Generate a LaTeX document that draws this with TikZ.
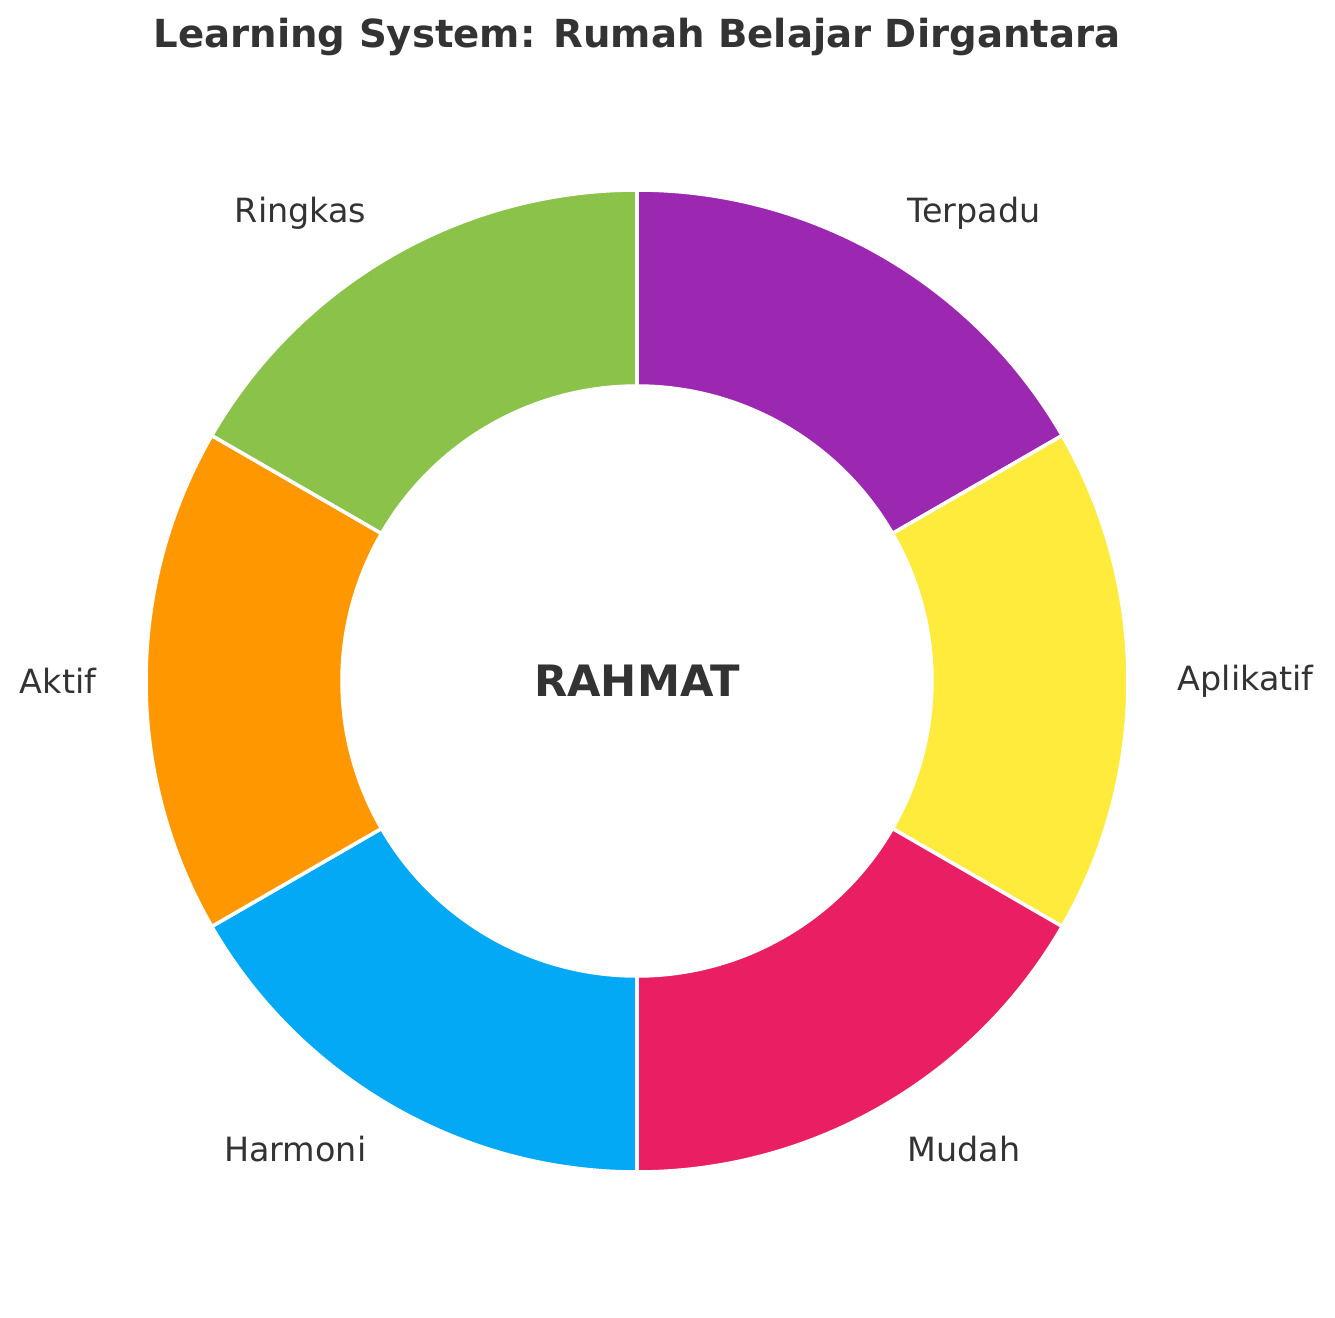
\documentclass[tikz,border=0pt]{standalone}
\usepackage{fontspec}
\setmainfont{DejaVu Sans}
\definecolor{txt}{HTML}{333333}
\definecolor{cTerpadu}{HTML}{9C27B0}
\definecolor{cAplikatif}{HTML}{FFEB3B}
\definecolor{cMudah}{HTML}{E91E63}
\definecolor{cHarmoni}{HTML}{03A9F4}
\definecolor{cAktif}{HTML}{FF9800}
\definecolor{cRingkas}{HTML}{8BC34A}
\tikzset{
  wedge/.style={draw=white, line width=1pt},
  lbl/.style={font=\fontsize{9.5}{11}\selectfont, text=txt, inner sep=0pt}
}
\begin{document}
\begin{tikzpicture}
\useasboundingbox (0,0) rectangle (13.35,13.18);
\coordinate (c) at (6.37,6.37);
% Ring segments
\foreach \a/\col/\name/\anc in {90/cTerpadu/Terpadu/west, 30/cAplikatif/Aplikatif/west, -30/cMudah/Mudah/west,
  -90/cHarmoni/Harmoni/east, -150/cAktif/Aktif/east, -210/cRingkas/Ringkas/east}{
  \pgfmathsetmacro{\b}{\a-60}
  \pgfmathsetmacro{\m}{\a-30}
  \fill[\col, wedge] ([shift={(\a:4.91)}]c) arc[start angle=\a, end angle=\b, radius=4.91]
    -- ([shift={(\b:2.95)}]c) arc[start angle=\b, end angle=\a, radius=2.95] -- cycle;
  \node[lbl, anchor=\anc] (l\name) at ([shift={(\m:5.4)}]c) {\name};
}
\node[font=\bfseries\fontsize{12.3}{14}\selectfont, text=txt] (center) at (c) {RAHMAT};
\node[font=\bfseries\fontsize{11}{13}\selectfont, text=txt] (title) at (6.37,12.81) {Learning System: Rumah Belajar Dirgantara};
\end{tikzpicture}
\end{document}
